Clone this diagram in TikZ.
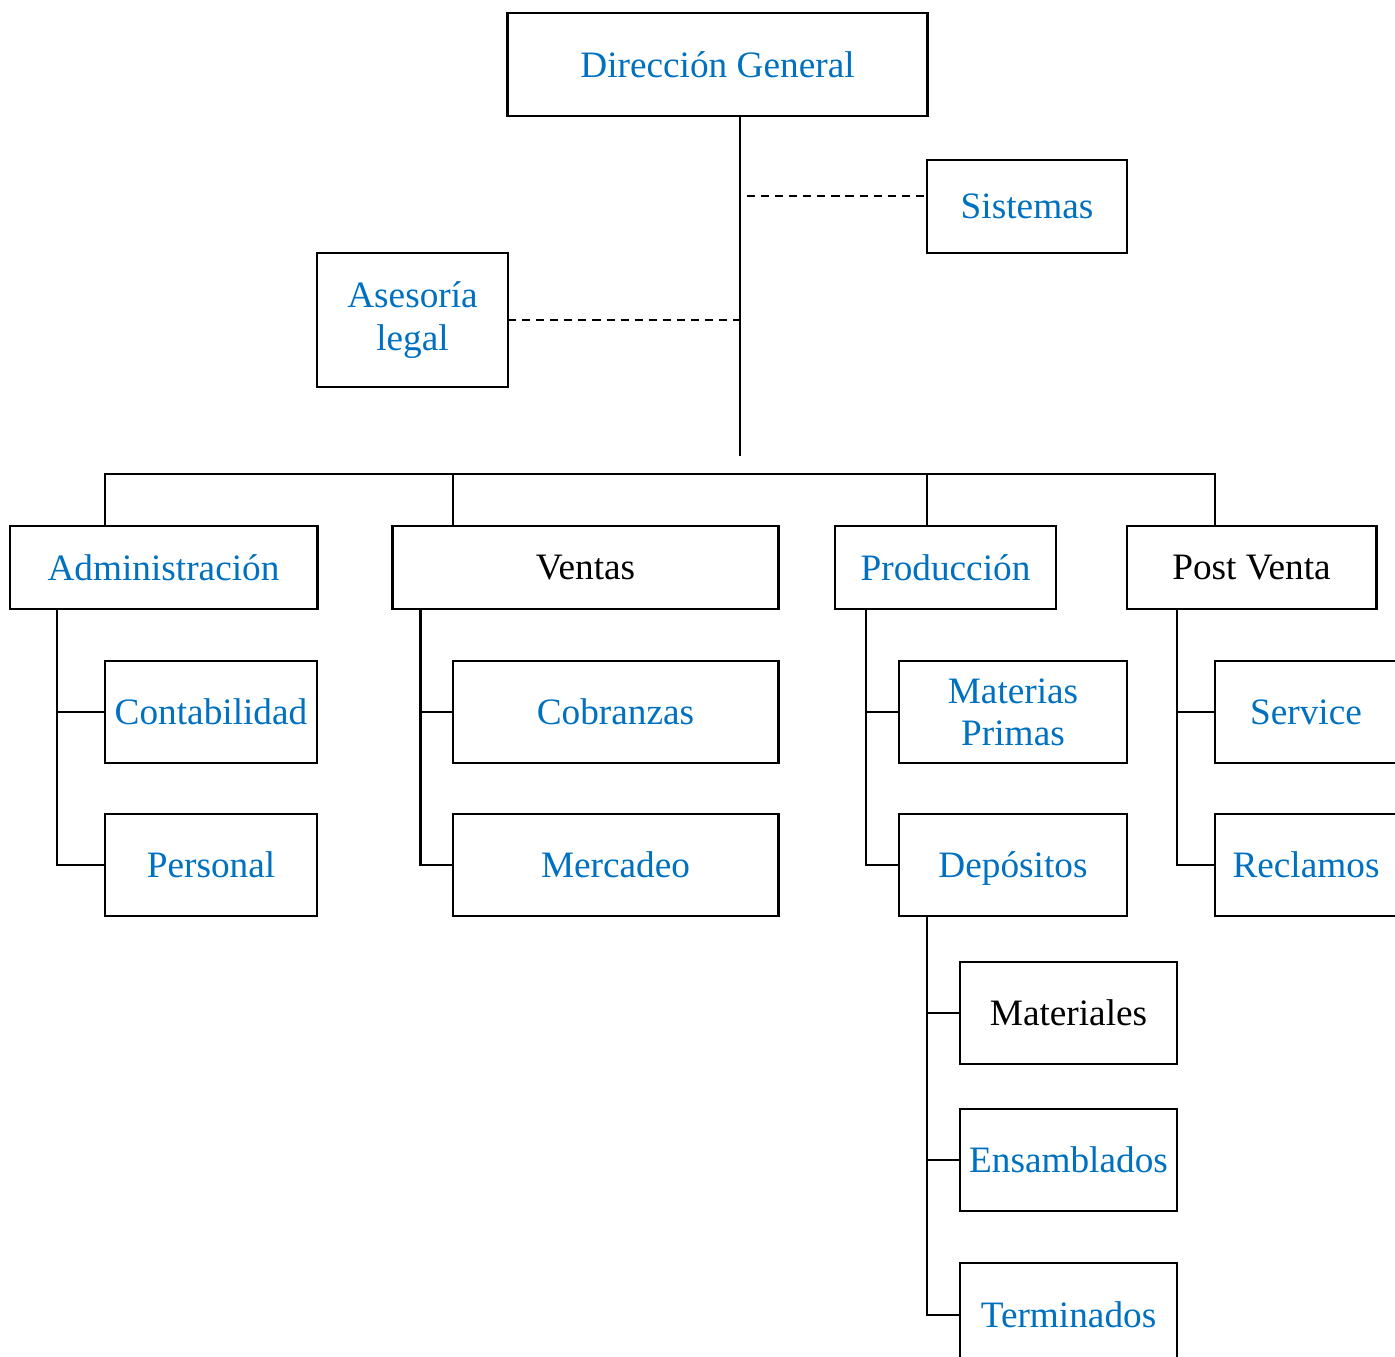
\documentclass[tikz,border=0pt]{standalone}
\usepackage{fontspec}
\setmainfont{Liberation Serif}
\usepackage{xcolor}
\usepackage{tikz}
\definecolor{azul}{RGB}{0,112,192}

\begin{document}
\begin{tikzpicture}[x=0.01cm, y=-0.01cm,
    caja/.style={draw, line width=0.8pt, inner sep=0pt, outer sep=0pt, align=center, text=azul,
                 font=\fontsize{10.6}{12}\selectfont},
    negro/.style={text=black},
    linea/.style={line width=0.8pt},
    discont/.style={line width=0.7pt, dash pattern=on 2.3pt off 1.7pt}]
          \useasboundingbox (0,0) rectangle (1395,1356);
          \clip (0,0) rectangle (1395,1356);
          % direccion y staff
          \node[caja, minimum width=4.19cm, minimum height=1.03cm] (dir) at (717.5,64.5) {Dirección General};
          \node[caja, minimum width=2.00cm, minimum height=0.93cm] (sis) at (1027,206.5) {Sistemas};
          \node[caja, minimum width=1.91cm, minimum height=1.34cm] (ase) at (412.5,320) {Asesoría\\legal};
          % gerencias
          \node[caja, minimum width=3.07cm, minimum height=0.83cm] (adm) at (163.5,567.5) {Administración};
          \node[caja, negro, minimum width=3.85cm, minimum height=0.83cm] (ven) at (585.5,567.5) {Ventas};
          \node[caja, minimum width=2.21cm, minimum height=0.83cm] (pro) at (945.5,567.5) {Producción};
          \node[caja, negro, minimum width=2.49cm, minimum height=0.83cm] (pos) at (1251.5,567.5) {Post Venta};
          % departamentos
          \node[caja, minimum width=2.12cm, minimum height=1.02cm] (con) at (211,712) {Contabilidad};
          \node[caja, minimum width=2.12cm, minimum height=1.02cm] (per) at (211,865) {Personal};
          \node[caja, minimum width=3.25cm, minimum height=1.02cm] (cob) at (615.5,712) {Cobranzas};
          \node[caja, minimum width=3.25cm, minimum height=1.02cm] (mer) at (615.5,865) {Mercadeo};
          \node[caja, minimum width=2.28cm, minimum height=1.02cm] (mat) at (1013,712) {Materias\\Primas};
          \node[caja, minimum width=2.28cm, minimum height=1.02cm] (dep) at (1013,865) {\raisebox{-1.1pt}[\height][\depth]{Depósitos}};
          \node[caja, minimum width=1.82cm, minimum height=1.02cm] (ser) at (1306,712) {Service};
          \node[caja, minimum width=1.82cm, minimum height=1.02cm] (rec) at (1306,865) {Reclamos};
          \node[caja, negro, minimum width=2.17cm, minimum height=1.02cm] (mle) at (1068.5,1013) {Materiales};
          \node[caja, minimum width=2.17cm, minimum height=1.02cm] (ens) at (1068.5,1160) {Ensamblados};
          \node[caja, minimum width=2.17cm, minimum height=1.04cm] (ter) at (1068.5,1315) {Terminados};
          % lineas
          \coordinate (tronco) at (740,456);
          \coordinate (barra) at (105,474);
          \coordinate (s1) at (747,196);
          \draw[linea] (dir.south -| tronco) -- (tronco);
          \draw[discont] (s1) -- (s1 -| sis.west);
          \draw[discont] (ase.east) -- (ase.east -| tronco);
          \draw[linea] (adm.north -| con.west) |- (barra) -| (pos.north -| ser.west);
          \draw[linea] (ven.north -| cob.west) -- ++(0,-52);
          \draw[linea] (pro.north west) ++(92,0) -- ++(0,-52);
          \draw[linea] (adm.south west) ++(47,0) |- (con.west);
          \draw[linea] (adm.south west) ++(47,0) |- (per.west);
          \draw[linea] (ven.south west) ++(28,0) |- (cob.west);
          \draw[linea] (ven.south west) ++(28,0) |- (mer.west);
          \draw[linea] (pro.south west) ++(31,0) |- (mat.west);
          \draw[linea] (pro.south west) ++(31,0) |- (dep.west);
          \draw[linea] (pos.south west) ++(50,0) |- (ser.west);
          \draw[linea] (pos.south west) ++(50,0) |- (rec.west);
          \draw[linea] (dep.south west) ++(28,0) |- (mle.west);
          \draw[linea] (dep.south west) ++(28,0) |- (ens.west);
          \draw[linea] (dep.south west) ++(28,0) |- (ter.west);
        \end{tikzpicture}
\end{document}
